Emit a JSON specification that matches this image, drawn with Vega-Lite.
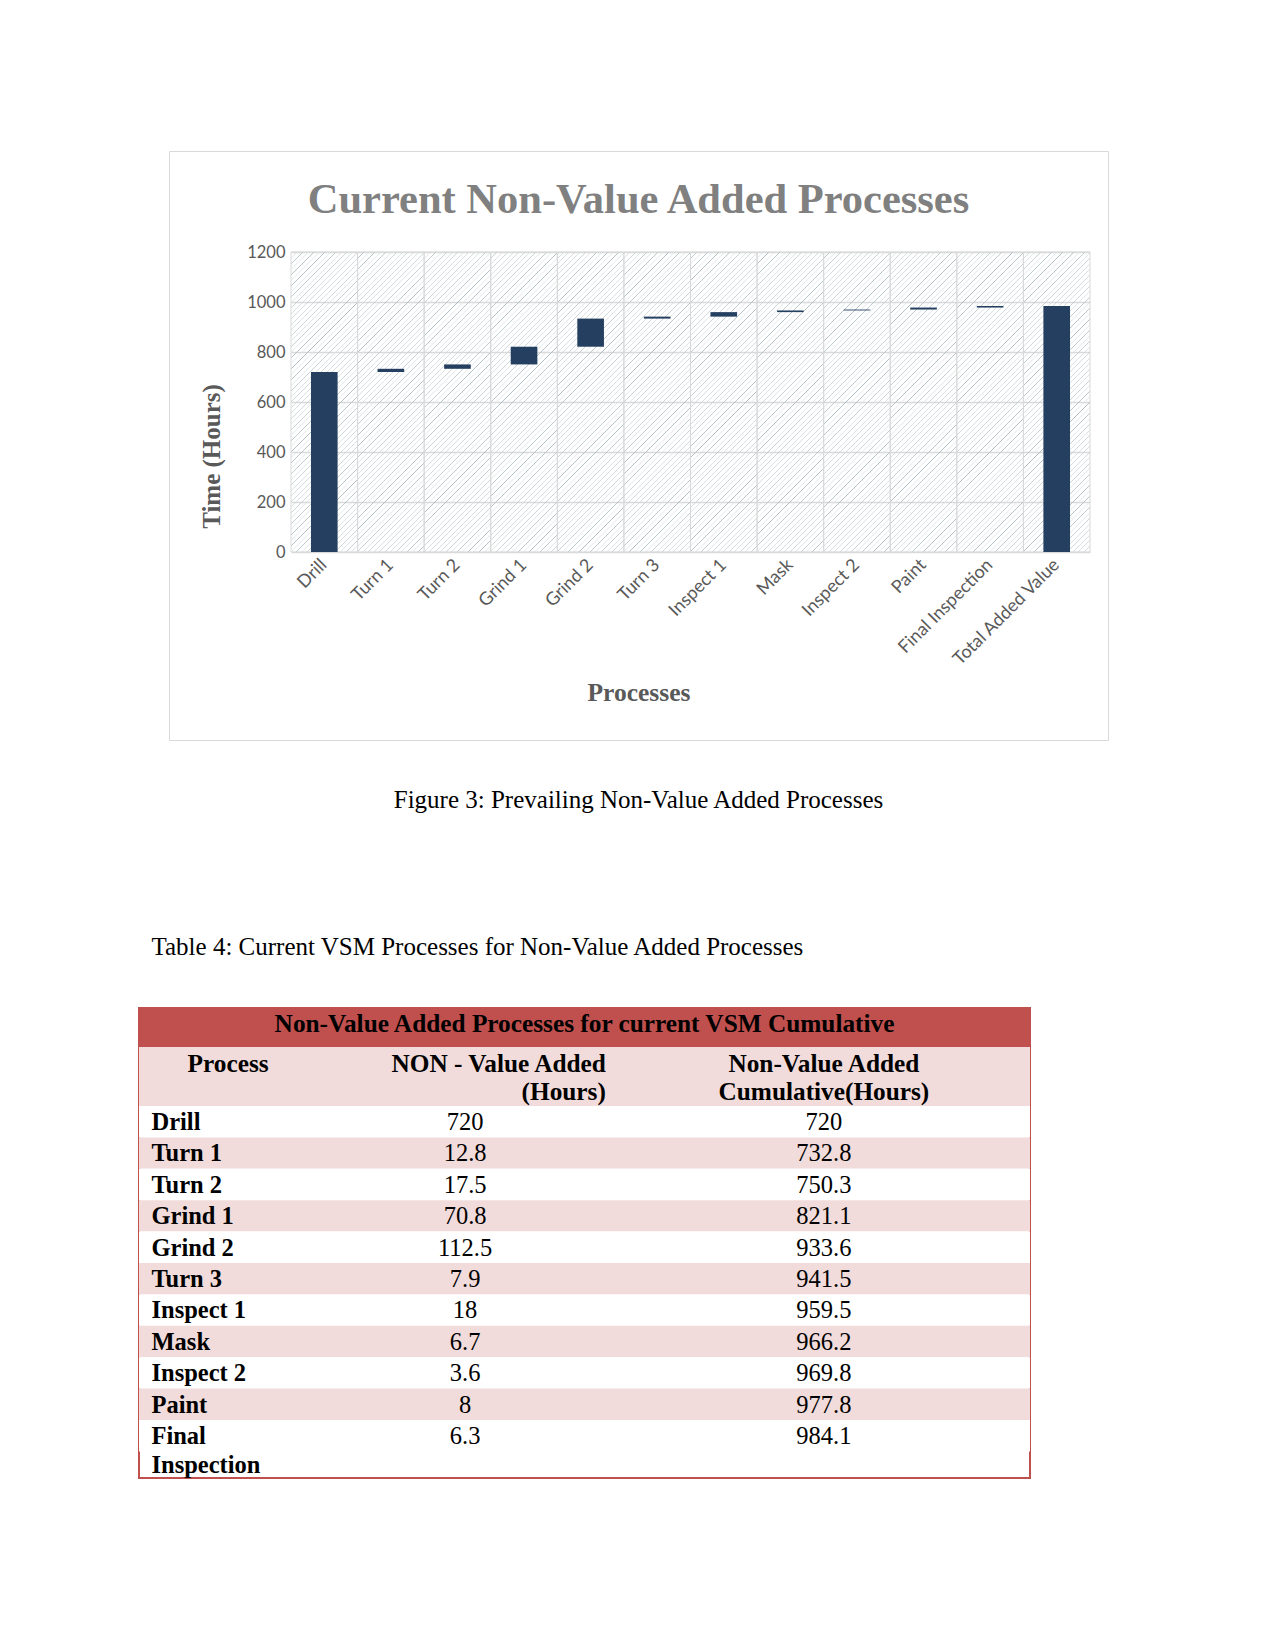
{
  "$schema": "https://vega.github.io/schema/vega-lite/v6.json",
  "padding": {"left": 138, "top": 150, "right": 10, "bottom": 10},
  "background": "white",
  "spacing": 0,
  "config": {"view": {"stroke": null}, "font": "Liberation Serif"},
  "datasets": {
    "waterfall": [
      {"process": "Drill", "start": 0, "end": 720},
      {"process": "Turn 1", "start": 720, "end": 732.8},
      {"process": "Turn 2", "start": 732.8, "end": 750.3},
      {"process": "Grind 1", "start": 750.3, "end": 821.1},
      {"process": "Grind 2", "start": 821.1, "end": 933.6},
      {"process": "Turn 3", "start": 933.6, "end": 941.5},
      {"process": "Inspect 1", "start": 941.5, "end": 959.5},
      {"process": "Mask", "start": 959.5, "end": 966.2},
      {"process": "Inspect 2", "start": 966.2, "end": 969.8},
      {"process": "Paint", "start": 969.8, "end": 977.8},
      {"process": "Final Inspection", "start": 977.8, "end": 984.1},
      {"process": "Total Added Value", "start": 0, "end": 984.1}
    ],
    "table": [
      {"process": "Drill", "nva": "720", "cumulative": "720"},
      {"process": "Turn 1", "nva": "12.8", "cumulative": "732.8"},
      {"process": "Turn 2", "nva": "17.5", "cumulative": "750.3"},
      {"process": "Grind 1", "nva": "70.8", "cumulative": "821.1"},
      {"process": "Grind 2", "nva": "112.5", "cumulative": "933.6"},
      {"process": "Turn 3", "nva": "7.9", "cumulative": "941.5"},
      {"process": "Inspect 1", "nva": "18", "cumulative": "959.5"},
      {"process": "Mask", "nva": "6.7", "cumulative": "966.2"},
      {"process": "Inspect 2", "nva": "3.6", "cumulative": "969.8"},
      {"process": "Paint", "nva": "8", "cumulative": "977.8"},
      {"process": "Final Inspection", "nva": "6.3", "cumulative": "984.1"}
    ]
  },
  "vconcat": [
    {
      "bounds": "flush",
      "spacing": 0,
      "hconcat": [
        {"width": 29.5, "height": 589, "view": {"fill": "transparent"}, "data": {"values": []}, "mark": "point"},
        {
          "width": 939,
          "height": 589,
          "view": {"stroke": "#d9d9d9", "fill": "white"},
          "title": {"text": "Current Non-Value Added Processes", "anchor": "middle", "frame": "group", "font": "Liberation Serif", "fontSize": 42.5, "fontWeight": "bold", "color": "#808080", "baseline": "middle", "offset": 0, "dy": 91},
          "data": {"name": "waterfall"},
          "resolve": {"scale": {"x": "independent"}},
          "layer": [
            {
              "mark": {
                "type": "rect",
                "stroke": "#d9d9d9",
                "strokeWidth": 1,
                "fill": {
                  "gradient": "linear", "x1": 0, "y1": 0, "x2": 1, "y2": 4.5057,
                  "stops": [
                    {"offset": 0, "color": "rgba(255,255,255,0)"}, {"offset": 0.0006, "color": "#adbfc5"}, {"offset": 0.0012, "color": "rgba(255,255,255,0)"},
                    {"offset": 0.0039, "color": "rgba(255,255,255,0)"}, {"offset": 0.0045, "color": "#adbfc5"}, {"offset": 0.0051, "color": "rgba(255,255,255,0)"},
                    {"offset": 0.0078, "color": "rgba(255,255,255,0)"}, {"offset": 0.0084, "color": "#adbfc5"}, {"offset": 0.009, "color": "rgba(255,255,255,0)"},
                    {"offset": 0.0117, "color": "rgba(255,255,255,0)"}, {"offset": 0.0123, "color": "#adbfc5"}, {"offset": 0.0129, "color": "rgba(255,255,255,0)"},
                    {"offset": 0.0156, "color": "rgba(255,255,255,0)"}, {"offset": 0.0162, "color": "#adbfc5"}, {"offset": 0.0168, "color": "rgba(255,255,255,0)"},
                    {"offset": 0.0195, "color": "rgba(255,255,255,0)"}, {"offset": 0.0201, "color": "#adbfc5"}, {"offset": 0.0207, "color": "rgba(255,255,255,0)"},
                    {"offset": 0.0234, "color": "rgba(255,255,255,0)"}, {"offset": 0.024, "color": "#adbfc5"}, {"offset": 0.0246, "color": "rgba(255,255,255,0)"},
                    {"offset": 0.0273, "color": "rgba(255,255,255,0)"}, {"offset": 0.0279, "color": "#adbfc5"}, {"offset": 0.0285, "color": "rgba(255,255,255,0)"},
                    {"offset": 0.0312, "color": "rgba(255,255,255,0)"}, {"offset": 0.0318, "color": "#adbfc5"}, {"offset": 0.0324, "color": "rgba(255,255,255,0)"},
                    {"offset": 0.0351, "color": "rgba(255,255,255,0)"}, {"offset": 0.0357, "color": "#adbfc5"}, {"offset": 0.0363, "color": "rgba(255,255,255,0)"},
                    {"offset": 0.039, "color": "rgba(255,255,255,0)"}, {"offset": 0.0396, "color": "#adbfc5"}, {"offset": 0.0402, "color": "rgba(255,255,255,0)"},
                    {"offset": 0.0429, "color": "rgba(255,255,255,0)"}, {"offset": 0.0435, "color": "#adbfc5"}, {"offset": 0.0441, "color": "rgba(255,255,255,0)"},
                    {"offset": 0.0468, "color": "rgba(255,255,255,0)"}, {"offset": 0.0474, "color": "#adbfc5"}, {"offset": 0.048, "color": "rgba(255,255,255,0)"},
                    {"offset": 0.0507, "color": "rgba(255,255,255,0)"}, {"offset": 0.0513, "color": "#adbfc5"}, {"offset": 0.0519, "color": "rgba(255,255,255,0)"},
                    {"offset": 0.0546, "color": "rgba(255,255,255,0)"}, {"offset": 0.0552, "color": "#adbfc5"}, {"offset": 0.0558, "color": "rgba(255,255,255,0)"},
                    {"offset": 0.0585, "color": "rgba(255,255,255,0)"}, {"offset": 0.0591, "color": "#adbfc5"}, {"offset": 0.0597, "color": "rgba(255,255,255,0)"},
                    {"offset": 0.0624, "color": "rgba(255,255,255,0)"}, {"offset": 0.063, "color": "#adbfc5"}, {"offset": 0.0636, "color": "rgba(255,255,255,0)"},
                    {"offset": 0.0663, "color": "rgba(255,255,255,0)"}, {"offset": 0.0669, "color": "#adbfc5"}, {"offset": 0.0675, "color": "rgba(255,255,255,0)"},
                    {"offset": 0.0702, "color": "rgba(255,255,255,0)"}, {"offset": 0.0708, "color": "#adbfc5"}, {"offset": 0.0714, "color": "rgba(255,255,255,0)"},
                    {"offset": 0.0741, "color": "rgba(255,255,255,0)"}, {"offset": 0.0747, "color": "#adbfc5"}, {"offset": 0.0753, "color": "rgba(255,255,255,0)"},
                    {"offset": 0.078, "color": "rgba(255,255,255,0)"}, {"offset": 0.0786, "color": "#adbfc5"}, {"offset": 0.0792, "color": "rgba(255,255,255,0)"},
                    {"offset": 0.0819, "color": "rgba(255,255,255,0)"}, {"offset": 0.0825, "color": "#adbfc5"}, {"offset": 0.0831, "color": "rgba(255,255,255,0)"},
                    {"offset": 0.0858, "color": "rgba(255,255,255,0)"}, {"offset": 0.0864, "color": "#adbfc5"}, {"offset": 0.087, "color": "rgba(255,255,255,0)"},
                    {"offset": 0.0897, "color": "rgba(255,255,255,0)"}, {"offset": 0.0903, "color": "#adbfc5"}, {"offset": 0.0909, "color": "rgba(255,255,255,0)"},
                    {"offset": 0.0936, "color": "rgba(255,255,255,0)"}, {"offset": 0.0942, "color": "#adbfc5"}, {"offset": 0.0948, "color": "rgba(255,255,255,0)"},
                    {"offset": 0.0975, "color": "rgba(255,255,255,0)"}, {"offset": 0.0981, "color": "#adbfc5"}, {"offset": 0.0987, "color": "rgba(255,255,255,0)"},
                    {"offset": 0.1014, "color": "rgba(255,255,255,0)"}, {"offset": 0.102, "color": "#adbfc5"}, {"offset": 0.1026, "color": "rgba(255,255,255,0)"},
                    {"offset": 0.1053, "color": "rgba(255,255,255,0)"}, {"offset": 0.1059, "color": "#adbfc5"}, {"offset": 0.1065, "color": "rgba(255,255,255,0)"},
                    {"offset": 0.1092, "color": "rgba(255,255,255,0)"}, {"offset": 0.1098, "color": "#adbfc5"}, {"offset": 0.1104, "color": "rgba(255,255,255,0)"},
                    {"offset": 0.1131, "color": "rgba(255,255,255,0)"}, {"offset": 0.1137, "color": "#adbfc5"}, {"offset": 0.1143, "color": "rgba(255,255,255,0)"},
                    {"offset": 0.117, "color": "rgba(255,255,255,0)"}, {"offset": 0.1176, "color": "#adbfc5"}, {"offset": 0.1182, "color": "rgba(255,255,255,0)"},
                    {"offset": 0.1209, "color": "rgba(255,255,255,0)"}, {"offset": 0.1215, "color": "#adbfc5"}, {"offset": 0.1221, "color": "rgba(255,255,255,0)"},
                    {"offset": 0.1248, "color": "rgba(255,255,255,0)"}, {"offset": 0.1254, "color": "#adbfc5"}, {"offset": 0.126, "color": "rgba(255,255,255,0)"},
                    {"offset": 0.1287, "color": "rgba(255,255,255,0)"}, {"offset": 0.1293, "color": "#adbfc5"}, {"offset": 0.1299, "color": "rgba(255,255,255,0)"},
                    {"offset": 0.1326, "color": "rgba(255,255,255,0)"}, {"offset": 0.1332, "color": "#adbfc5"}, {"offset": 0.1338, "color": "rgba(255,255,255,0)"},
                    {"offset": 0.1365, "color": "rgba(255,255,255,0)"}, {"offset": 0.1371, "color": "#adbfc5"}, {"offset": 0.1377, "color": "rgba(255,255,255,0)"},
                    {"offset": 0.1404, "color": "rgba(255,255,255,0)"}, {"offset": 0.141, "color": "#adbfc5"}, {"offset": 0.1416, "color": "rgba(255,255,255,0)"},
                    {"offset": 0.1443, "color": "rgba(255,255,255,0)"}, {"offset": 0.1449, "color": "#adbfc5"}, {"offset": 0.1455, "color": "rgba(255,255,255,0)"},
                    {"offset": 0.1482, "color": "rgba(255,255,255,0)"}, {"offset": 0.1488, "color": "#adbfc5"}, {"offset": 0.1494, "color": "rgba(255,255,255,0)"},
                    {"offset": 0.1521, "color": "rgba(255,255,255,0)"}, {"offset": 0.1527, "color": "#adbfc5"}, {"offset": 0.1533, "color": "rgba(255,255,255,0)"},
                    {"offset": 0.156, "color": "rgba(255,255,255,0)"}, {"offset": 0.1566, "color": "#adbfc5"}, {"offset": 0.1572, "color": "rgba(255,255,255,0)"},
                    {"offset": 0.1599, "color": "rgba(255,255,255,0)"}, {"offset": 0.1605, "color": "#adbfc5"}, {"offset": 0.1611, "color": "rgba(255,255,255,0)"},
                    {"offset": 0.1638, "color": "rgba(255,255,255,0)"}, {"offset": 0.1644, "color": "#adbfc5"}, {"offset": 0.165, "color": "rgba(255,255,255,0)"},
                    {"offset": 0.1677, "color": "rgba(255,255,255,0)"}, {"offset": 0.1683, "color": "#adbfc5"}, {"offset": 0.1689, "color": "rgba(255,255,255,0)"},
                    {"offset": 0.1716, "color": "rgba(255,255,255,0)"}, {"offset": 0.1722, "color": "#adbfc5"}, {"offset": 0.1728, "color": "rgba(255,255,255,0)"},
                    {"offset": 0.1755, "color": "rgba(255,255,255,0)"}, {"offset": 0.1761, "color": "#adbfc5"}, {"offset": 0.1767, "color": "rgba(255,255,255,0)"},
                    {"offset": 0.1794, "color": "rgba(255,255,255,0)"}, {"offset": 0.18, "color": "#adbfc5"}, {"offset": 0.1806, "color": "rgba(255,255,255,0)"},
                    {"offset": 0.1833, "color": "rgba(255,255,255,0)"}, {"offset": 0.1839, "color": "#adbfc5"}, {"offset": 0.1845, "color": "rgba(255,255,255,0)"},
                    {"offset": 0.1872, "color": "rgba(255,255,255,0)"}, {"offset": 0.1878, "color": "#adbfc5"}, {"offset": 0.1884, "color": "rgba(255,255,255,0)"},
                    {"offset": 0.1911, "color": "rgba(255,255,255,0)"}, {"offset": 0.1917, "color": "#adbfc5"}, {"offset": 0.1923, "color": "rgba(255,255,255,0)"},
                    {"offset": 0.195, "color": "rgba(255,255,255,0)"}, {"offset": 0.1956, "color": "#adbfc5"}, {"offset": 0.1962, "color": "rgba(255,255,255,0)"},
                    {"offset": 0.1989, "color": "rgba(255,255,255,0)"}, {"offset": 0.1995, "color": "#adbfc5"}, {"offset": 0.2001, "color": "rgba(255,255,255,0)"},
                    {"offset": 0.2028, "color": "rgba(255,255,255,0)"}, {"offset": 0.2034, "color": "#adbfc5"}, {"offset": 0.204, "color": "rgba(255,255,255,0)"},
                    {"offset": 0.2067, "color": "rgba(255,255,255,0)"}, {"offset": 0.2073, "color": "#adbfc5"}, {"offset": 0.2079, "color": "rgba(255,255,255,0)"},
                    {"offset": 0.2106, "color": "rgba(255,255,255,0)"}, {"offset": 0.2112, "color": "#adbfc5"}, {"offset": 0.2118, "color": "rgba(255,255,255,0)"},
                    {"offset": 0.2145, "color": "rgba(255,255,255,0)"}, {"offset": 0.2151, "color": "#adbfc5"}, {"offset": 0.2157, "color": "rgba(255,255,255,0)"},
                    {"offset": 0.2184, "color": "rgba(255,255,255,0)"}, {"offset": 0.219, "color": "#adbfc5"}, {"offset": 0.2196, "color": "rgba(255,255,255,0)"},
                    {"offset": 0.2223, "color": "rgba(255,255,255,0)"}, {"offset": 0.2229, "color": "#adbfc5"}, {"offset": 0.2235, "color": "rgba(255,255,255,0)"},
                    {"offset": 0.2262, "color": "rgba(255,255,255,0)"}, {"offset": 0.2268, "color": "#adbfc5"}, {"offset": 0.2274, "color": "rgba(255,255,255,0)"},
                    {"offset": 0.2301, "color": "rgba(255,255,255,0)"}, {"offset": 0.2307, "color": "#adbfc5"}, {"offset": 0.2313, "color": "rgba(255,255,255,0)"},
                    {"offset": 0.234, "color": "rgba(255,255,255,0)"}, {"offset": 0.2346, "color": "#adbfc5"}, {"offset": 0.2352, "color": "rgba(255,255,255,0)"},
                    {"offset": 0.2379, "color": "rgba(255,255,255,0)"}, {"offset": 0.2385, "color": "#adbfc5"}, {"offset": 0.2391, "color": "rgba(255,255,255,0)"},
                    {"offset": 0.2418, "color": "rgba(255,255,255,0)"}, {"offset": 0.2424, "color": "#adbfc5"}, {"offset": 0.243, "color": "rgba(255,255,255,0)"},
                    {"offset": 0.2457, "color": "rgba(255,255,255,0)"}, {"offset": 0.2463, "color": "#adbfc5"}, {"offset": 0.2469, "color": "rgba(255,255,255,0)"},
                    {"offset": 0.2496, "color": "rgba(255,255,255,0)"}, {"offset": 0.2502, "color": "#adbfc5"}, {"offset": 0.2508, "color": "rgba(255,255,255,0)"},
                    {"offset": 0.2535, "color": "rgba(255,255,255,0)"}, {"offset": 0.2541, "color": "#adbfc5"}, {"offset": 0.2547, "color": "rgba(255,255,255,0)"},
                    {"offset": 0.2574, "color": "rgba(255,255,255,0)"}, {"offset": 0.258, "color": "#adbfc5"}, {"offset": 0.2586, "color": "rgba(255,255,255,0)"},
                    {"offset": 0.2613, "color": "rgba(255,255,255,0)"}, {"offset": 0.2619, "color": "#adbfc5"}, {"offset": 0.2625, "color": "rgba(255,255,255,0)"},
                    {"offset": 1, "color": "rgba(255,255,255,0)"}
                  ]
                }
              },
              "encoding": {
                "x": {"field": "process", "type": "nominal", "sort": null, "scale": {"type": "band", "range": [122, 921], "paddingInner": 0, "paddingOuter": 0}, "axis": null},
                "y": {"datum": 0, "type": "quantitative", "scale": {"domain": [0, 1200], "range": [401, 101]}},
                "y2": {"datum": 1200}
              }
            },
            {
              "mark": {"type": "bar", "color": "#243f60"},
              "encoding": {
                "x": {
                  "field": "process", "type": "nominal", "sort": null,
                  "scale": {"type": "band", "range": [122, 921], "paddingInner": 0.6, "paddingOuter": 0.3},
                  "axis": {
                    "title": "Processes", "offset": -188, "domain": false, "ticks": false, "grid": false,
                    "labelAngle": -45, "labelAlign": "right", "labelBaseline": "middle", "labelFont": "Lato", "labelFontSize": 18, "labelColor": "#595959", "labelPadding": 10,
                    "titleFont": "Liberation Serif", "titleFontSize": 25.5, "titleFontWeight": "bold", "titleColor": "#595959",
                    "titleX": 469.5, "titleY": 140, "titleBaseline": "middle", "titleAlign": "center"
                  }
                },
                "y": {
                  "field": "start", "type": "quantitative",
                  "scale": {"domain": [0, 1200], "range": [401, 101]},
                  "axis": {
                    "title": "Time (Hours)", "offset": -122, "domain": false, "ticks": false, "format": "d",
                    "values": [0, 200, 400, 600, 800, 1000, 1200],
                    "labelFont": "Lato", "labelFontSize": 16.5, "labelColor": "#595959", "labelPadding": 6,
                    "grid": true, "gridColor": "#d9d9d9", "gridWidth": 1.3,
                    "titleFont": "Liberation Serif", "titleFontSize": 25, "titleFontWeight": "bold", "titleColor": "#595959",
                    "titleX": -80, "titleY": 305, "titleBaseline": "middle", "titleAlign": "center"
                  }
                },
                "y2": {"field": "end"}
              }
            }
          ]
        }
      ]
    },
    {
      "width": 999, "height": 118,
      "view": {"fill": "transparent"},
      "data": {"values": [{}]},
      "mark": {"type": "text", "font": "Liberation Serif", "fontSize": 25, "color": "black", "align": "center", "baseline": "middle"},
      "encoding": {"text": {"value": "Figure 3: Prevailing Non-Value Added Processes"}}
    },
    {
      "width": 25, "height": 148,
      "view": {"fill": "transparent"},
      "data": {"values": [{}]},
      "mark": {"type": "text", "font": "Liberation Serif", "fontSize": 25, "color": "black", "align": "left", "baseline": "line-top", "lineHeight": 30},
      "encoding": {"text": {"value": "Table 4: Current VSM Processes for Non-Value Added Processes"}}
    },
    {
      "width": 891, "height": 470,
      "view": {"stroke": "#c0504d", "strokeWidth": 2, "fill": "white"},
      "resolve": {"scale": {"y": "independent"}},
      "layer": [
        {
          "data": {"values": [{"heading": "Non-Value Added Processes for current VSM Cumulative"}]},
          "layer": [
            {
              "mark": {"type": "rect", "fill": "#c0504d"},
              "encoding": {"y": {"field": "heading", "type": "nominal", "scale": {"type": "band", "range": [0, 39], "paddingInner": 0, "paddingOuter": 0}, "axis": null}}
            },
            {
              "mark": {"type": "text", "font": "Liberation Serif", "fontSize": 25.3, "fontWeight": "bold", "color": "black", "baseline": "middle"},
              "encoding": {
                "y": {"field": "heading", "type": "nominal", "bandPosition": 0.4},
                "text": {"field": "heading"}
              }
            }
          ]
        },
        {
          "data": {"values": [{}]},
          "layer": [
            {
              "mark": {"type": "rect", "fill": "#f2dcdb"},
              "encoding": {"y": {"datum": "headings", "type": "nominal", "scale": {"type": "band", "domain": ["headings"], "range": [39, 98], "paddingInner": 0, "paddingOuter": 0}, "axis": null}}
            },
            {
              "mark": {"type": "text", "font": "Liberation Serif", "fontSize": 25.3, "fontWeight": "bold", "color": "black", "baseline": "line-top", "lineHeight": 28, "align": "center"},
              "encoding": {
                "x": {"datum": "Process", "type": "nominal", "bandPosition": 0.3, "scale": {"type": "band", "domain": ["Process", "NVA", "Cumulative"], "paddingInner": 0, "paddingOuter": 0}, "axis": null},
                "y": {"datum": "headings", "type": "nominal", "bandPosition": 0.074},
                "text": {"value": "Process"}
              }
            },
            {
              "mark": {"type": "text", "font": "Liberation Serif", "fontSize": 25.3, "fontWeight": "bold", "color": "black", "baseline": "line-top", "lineHeight": 28, "align": "right"},
              "encoding": {
                "x": {"datum": "NVA", "type": "nominal", "bandPosition": 0.572},
                "y": {"datum": "headings", "type": "nominal", "bandPosition": 0.074},
                "text": {"value": ["NON - Value Added", "(Hours)"]}
              }
            },
            {
              "mark": {"type": "text", "font": "Liberation Serif", "fontSize": 25.3, "fontWeight": "bold", "color": "black", "baseline": "line-top", "lineHeight": 28, "align": "center"},
              "encoding": {
                "x": {"datum": "Cumulative", "type": "nominal", "bandPosition": 0.306},
                "y": {"datum": "headings", "type": "nominal", "bandPosition": 0.074},
                "text": {"value": ["Non-Value Added", "Cumulative(Hours)"]}
              }
            }
          ]
        },
        {
          "data": {"name": "table"},
          "layer": [
            {
              "mark": {"type": "rect"},
              "encoding": {
                "y": {"field": "process", "type": "nominal", "sort": null, "scale": {"type": "band", "range": [98, 443.4], "paddingInner": 0, "paddingOuter": 0}, "axis": null},
                "color": {
                  "field": "process", "type": "nominal", "legend": null,
                  "scale": {
                    "domain": ["Drill", "Turn 1", "Turn 2", "Grind 1", "Grind 2", "Turn 3", "Inspect 1", "Mask", "Inspect 2", "Paint", "Final Inspection"],
                    "range": ["#ffffff", "#f2dcdb", "#ffffff", "#f2dcdb", "#ffffff", "#f2dcdb", "#ffffff", "#f2dcdb", "#ffffff", "#f2dcdb", "#ffffff"]
                  }
                }
              }
            },
            {
              "mark": {"type": "text", "font": "Liberation Serif", "fontSize": 24.5, "fontWeight": "bold", "color": "black", "baseline": "line-top", "lineHeight": 29, "align": "left"},
              "encoding": {
                "x": {"datum": "Process", "type": "nominal", "bandPosition": 0.042},
                "y": {"field": "process", "type": "nominal", "sort": null, "bandPosition": 0.064},
                "text": {"condition": {"test": "datum.process === 'Final Inspection'", "value": ["Final", "Inspection"]}, "field": "process"}
              }
            },
            {
              "mark": {"type": "text", "font": "Liberation Serif", "fontSize": 24.5, "color": "black", "baseline": "line-top", "lineHeight": 29, "align": "center"},
              "encoding": {
                "x": {"datum": "NVA", "type": "nominal", "bandPosition": 0.098},
                "y": {"field": "process", "type": "nominal", "sort": null, "bandPosition": 0.064},
                "text": {"field": "nva"}
              }
            },
            {
              "mark": {"type": "text", "font": "Liberation Serif", "fontSize": 24.5, "color": "black", "baseline": "line-top", "lineHeight": 29, "align": "center"},
              "encoding": {
                "x": {"datum": "Cumulative", "type": "nominal", "bandPosition": 0.306},
                "y": {"field": "process", "type": "nominal", "sort": null, "bandPosition": 0.064},
                "text": {"field": "cumulative"}
              }
            }
          ]
        }
      ]
    }
  ]
}
